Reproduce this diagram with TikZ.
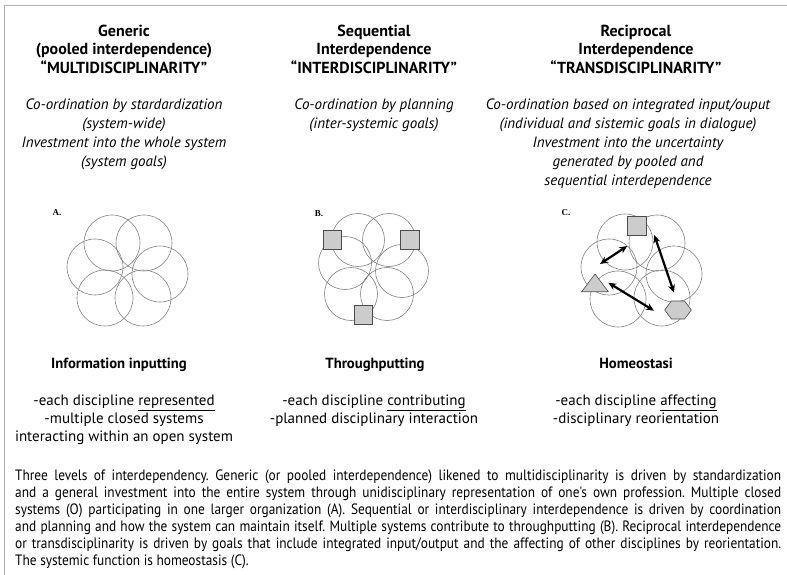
\documentclass[tikz,border=0pt]{standalone}
\usepackage{fontspec}
\setmainfont{PT Sans}
\newfontfamily\capfont[FakeStretch=0.89]{PT Sans}
\newfontfamily\labfont{Liberation Serif}
\usetikzlibrary{arrows.meta}
\newcommand{\capline}[1]{\makebox[766pt][s]{#1}}
\frenchspacing

\begin{document}
\begin{tikzpicture}[
x=1pt,y=-1pt,
frame/.style={draw=black!30,line width=0.8pt},
title/.style={anchor=north,align=center,inner sep=0pt,font=\fontsize{16}{18.5}\selectfont\bfseries},
coord/.style={anchor=north,align=center,inner sep=0pt,font=\fontsize{15}{19}\selectfont\itshape},
func/.style={anchor=north,inner sep=0pt,font=\fontsize{14.7}{18}\selectfont\bfseries},
disc/.style={anchor=north,align=center,inner sep=0pt,font=\fontsize{15}{18}\selectfont},
lab/.style={inner sep=0pt,font=\labfont\fontsize{9}{9}\selectfont\bfseries},
petal/.style={draw=black!50,circle,inner sep=0pt,line width=0.6pt},
box/.style={draw=black!70,fill=black!20,inner sep=0pt,minimum size=18.5pt,line width=0.6pt},
token/.style={draw=black!70,fill=black!20,line width=0.6pt},
arr/.style={{Stealth[length=8pt,width=7pt]}-{Stealth[length=8pt,width=7pt]},line width=2.2pt},
]
\useasboundingbox (0,0) rectangle (787,575);

%frame
\path[frame] (4,575) -- (4,5) -- (787,5);

%titles
\node[title] (tit1) at (124,24.5) {Generic\\(pooled interdependence)\\``MULTIDISCIPLINARITY''};
\node[title] (tit2) at (374,24.5) {Sequential\\Interdependence\\``INTERDISCIPLINARITY''};
\node[title] (tit3) at (636,24.5) {Reciprocal\\Interdependence\\``TRANSDISCIPLINARITY''};

\node[coord] (co1) at (124,98.5) {Co-ordination by stardardization\\(system-wide)\\Investment into the whole system\\(system goals)};
\node[coord] (co2) at (374,98.5) {Co-ordination by planning\\(inter-systemic goals)};
\node[coord] (co3) at (628,98.5) {Co-ordination based on integrated input/ouput\\(individual and sistemic goals in dialogue)\\Investment into the uncertainty\\generated by pooled and\\sequential interdependence};

%pooled
\node[lab] (labA) at (57,213) {A.};
\node[petal,minimum size=56pt] (a1) at (144,243) {};
\node[petal,minimum size=56pt] (a2) at (112,243) {};
\node[petal,minimum size=56pt] (a3) at (95,267) {};
\node[petal,minimum size=56pt] (a4) at (105,298) {};
\node[petal,minimum size=56pt] (a5) at (143,298) {};
\node[petal,minimum size=56pt] (a6) at (160,274) {};

%sequential
\node[lab] (labB) at (319,214) {B.};
\node[petal,minimum size=53pt] (b1) at (389,240) {};
\node[petal,minimum size=53pt] (b2) at (358,240) {};
\node[petal,minimum size=53pt] (b3) at (345,263) {};
\node[petal,minimum size=53pt] (b4) at (351,294) {};
\node[petal,minimum size=53pt] (b5) at (387,294) {};
\node[petal,minimum size=53pt] (b6) at (402,271) {};
\node[box] (sq1) at (332.5,240) {};
\node[box] (sq2) at (410,240) {};
\node[box] (sq3) at (363.5,315) {};

%reciprocal
\node[lab] (labC) at (566,213) {C.};
\node[petal,minimum size=56pt] (c1) at (657,243) {};
\node[petal,minimum size=56pt] (c2) at (625,242) {};
\node[petal,minimum size=56pt] (c3) at (609,267) {};
\node[petal,minimum size=56pt] (c4) at (618,299) {};
\node[petal,minimum size=56pt] (c5) at (662,298) {};
\node[petal,minimum size=56pt] (c6) at (674,274) {};
\node[box] (sq4) at (636.7,226) {};
\path[token] (581.7,291.7) -- (608.3,291.7) -- (595,274) -- cycle;
\path[token] (664.7,310) -- (671.4,301) -- (684.6,301) -- (691.3,310) -- (684.6,319) -- (671.4,319) -- cycle;

\coordinate (p1) at (600,264);
\coordinate (q1) at (627.3,246);
\coordinate (p2) at (654.3,235);
\coordinate (q2) at (674,292.7);
\coordinate (p3) at (608.3,282.7);
\coordinate (q3) at (654,310.7);
\draw[arr] (p1) -- (q1);
\draw[arr] (p2) -- (q2);
\draw[arr] (p3) -- (q3);

%functions
\node[func] (fun1) at (119,358) {Information inputting};
\node[func] (fun2) at (375,358) {Throughputting};
\node[func] (fun3) at (636,358) {Homeostasi};

\node[disc] (dis1) at (124,394.5) {-each discipline \underline{represented}\\-multiple closed systems\\interacting within an open system};
\node[disc] (dis2) at (374,394.5) {-each discipline \underline{contributing}\\-planned disciplinary interaction};
\node[disc] (dis3) at (636,394.5) {-each discipline \underline{affecting}\\-disciplinary reorientation};

%caption
\node[anchor=north west,align=left,inner sep=0pt,font=\capfont\fontsize{15}{17}\selectfont] (cap) at (15,470)
{\capline{Three levels of interdependency. Generic (or pooled interdependence) likened to multidisciplinarity is driven by standardization}\\
\capline{and a general investment into the entire system through unidisciplinary representation of one's own profession. Multiple closed}\\
\capline{systems (O) participating in one larger organization (A). Sequential or interdisciplinary interdependence is driven by coordination}\\
\capline{and planning and how the system can maintain itself. Multiple systems contribute to throughputting (B). Reciprocal interdependence}\\
\capline{or transdisciplinarity is driven by goals that include integrated input/output and the affecting of other disciplines by reorientation.}\\
The systemic function is homeostasis (C).};

\end{tikzpicture}
\end{document}
